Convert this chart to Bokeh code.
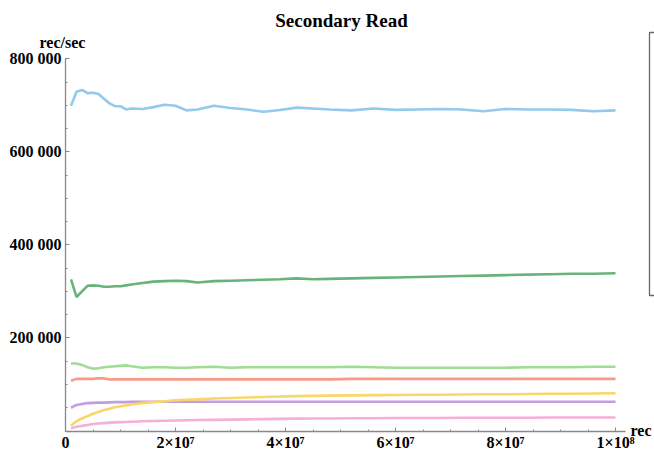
from bokeh.plotting import figure
from bokeh.models import FixedTicker, Label, BoxAnnotation
from bokeh.embed import file_html
from bokeh.resources import INLINE

# x positions in millions of records
x_m = [1, 2, 3, 4, 5, 6, 7, 8, 9, 10, 11, 12, 14, 16, 18, 20, 22, 24, 27, 30, 33, 36, 39,
       42, 45, 48, 52, 56, 60, 64, 68, 72, 76, 80, 84, 88, 92, 96, 100]

# rates in thousands rec/sec
s_blue = [699, 729, 733, 726, 727, 724, 714, 704, 698, 698, 691, 693, 692, 696, 701, 699, 689,
          691, 699, 694, 691, 686, 690, 695, 693, 691, 689, 693, 690, 691, 692, 691, 687, 692,
          691, 691, 690, 687, 689]
s_dkgreen = [326, 288, 300, 312, 313, 312, 310, 310, 311, 311, 313, 315, 318, 321, 322, 323, 322,
             319, 322, 323, 324, 325, 326, 328, 326, 327, 328, 329, 330, 331, 332, 333, 334, 335,
             336, 337, 338, 338, 339]
s_ltgreen = [145, 145, 142, 137, 134, 135, 137, 138, 139, 140, 141, 139, 136, 137, 137, 136, 136,
             137, 138, 136, 137, 137, 137, 137, 137, 137, 138, 137, 136, 136, 136, 136, 136, 136,
             137, 137, 137, 138, 138]
s_salmon = [108, 112, 112, 112, 112, 113, 113, 111, 111, 111, 111, 111, 111, 111, 111, 111, 111,
            111, 111, 111, 111, 111, 111, 111, 111, 111, 112, 112, 112, 112, 112, 112, 112, 112,
            112, 112, 112, 112, 112]
s_purple = [50, 56, 58, 60, 60.5, 61, 61, 61.5, 62, 62, 62, 62.5, 62.5, 63, 63, 63, 63, 63, 63,
            63, 63, 63, 63, 63, 63, 63, 63, 63, 63, 63, 63, 63, 63, 63, 63, 63, 63, 63, 63]
s_yellow = [12, 21, 27, 32, 37, 41, 45, 48, 51, 53, 55, 57, 60, 62, 64, 66, 67, 68, 70, 71, 72,
            73, 74, 75, 75.5, 76, 76.5, 77, 77.5, 78, 78, 78.5, 79, 79, 79.5, 80, 80, 80.5, 81]
s_pink = [6, 9, 11, 13, 15, 16, 17, 18, 18.5, 19, 19.5, 20, 21, 21.5, 22, 22.5, 23, 23.5, 24,
          24.5, 25, 25.5, 26, 26.5, 27, 27, 27.5, 27.5, 28, 28, 28, 28.5, 28.5, 28.5, 28.5, 29,
          29, 29, 29]

series = [
    (s_blue, "#92c9ec"),
    (s_dkgreen, "#68b37a"),
    (s_ltgreen, "#a0dc94"),
    (s_salmon, "#f89a86"),
    (s_purple, "#c49ce2"),
    (s_yellow, "#f9d66a"),
    (s_pink, "#f6b0d6"),
]

x_ticks = [0, 20e6, 40e6, 60e6, 80e6, 100e6]
x_labels = ["0", "2×10⁷", "4×10⁷", "6×10⁷", "8×10⁷", "1×10⁸"]
y_ticks = [0, 200000, 400000, 600000, 800000]
y_labels = ["", "200 000", "400 000", "600 000", "800 000"]

FONT = "Liberation Serif"

# pixel scale: 5.5 px per 1e6 rec, 1 px per 2149 rec/sec; origin at canvas (65, 430.5)
XS = 1e6 / 5.5
YS = 2149.0
p = figure(width=654, height=451, output_backend="svg", toolbar_location=None,
           x_range=(-65 * XS, (654 - 65) * XS), y_range=(-(451 - 430.5) * YS, 430.5 * YS),
           min_border=0)
p.outline_line_color = None
p.xgrid.visible = False
p.ygrid.visible = False

xs = [v * 1e6 for v in x_m]
for vals, col in series:
    p.line(xs, [v * 1000 for v in vals], line_color=col, line_width=2.6)

for ax in (p.xaxis[0], p.yaxis[0]):
    ax.fixed_location = 0
    ax.axis_line_color = "#888888"
    ax.axis_line_width = 1.3
    ax.major_tick_line_color = "#888888"
    ax.minor_tick_line_color = "#888888"
    ax.major_tick_in = 4
    ax.major_tick_out = 0
    ax.minor_tick_in = 2
    ax.minor_tick_out = 0
    ax.major_label_text_font = FONT
    ax.major_label_text_font_style = "bold"
    ax.major_label_text_font_size = "16px"
    ax.major_label_text_color = "black"

p.xaxis[0].bounds = (0, 1.018e8)
p.xaxis[0].ticker = FixedTicker(ticks=x_ticks, minor_ticks=[i * 5e6 for i in range(21)])
p.xaxis[0].major_label_overrides = {t: l for t, l in zip(x_ticks, x_labels)}
p.xaxis[0].major_label_standoff = 3
p.yaxis[0].bounds = (0, 800000)
p.yaxis[0].ticker = FixedTicker(ticks=y_ticks, minor_ticks=[i * 50000 for i in range(17)])
p.yaxis[0].major_label_overrides = {t: l for t, l in zip(y_ticks, y_labels)}
p.yaxis[0].major_label_standoff = 4

p.add_layout(Label(x=(341 - 65) * XS, y=(430.5 - 20) * YS, text="Secondary Read",
                   text_font=FONT, text_font_style="bold", text_font_size="19px",
                   text_align="center", text_baseline="middle", text_color="black"))
p.add_layout(Label(x=(39 - 65) * XS, y=(430.5 - 42) * YS, text="rec/sec",
                   text_font=FONT, text_font_style="bold", text_font_size="16px",
                   text_align="left", text_baseline="middle", text_color="black"))
p.add_layout(Label(x=(630 - 65) * XS, y=(430.5 - 430) * YS, text="rec",
                   text_font=FONT, text_font_style="bold", text_font_size="16px",
                   text_align="left", text_baseline="middle", text_color="black"))
p.add_layout(BoxAnnotation(left=(649 - 65) * XS, right=(700 - 65) * XS,
                           top=(430.5 - 32) * YS, bottom=(430.5 - 295) * YS,
                           fill_alpha=0, line_color="#666666", line_alpha=1.0,
                           line_width=1.3))

open("out.html", "w").write(file_html(p, INLINE))
